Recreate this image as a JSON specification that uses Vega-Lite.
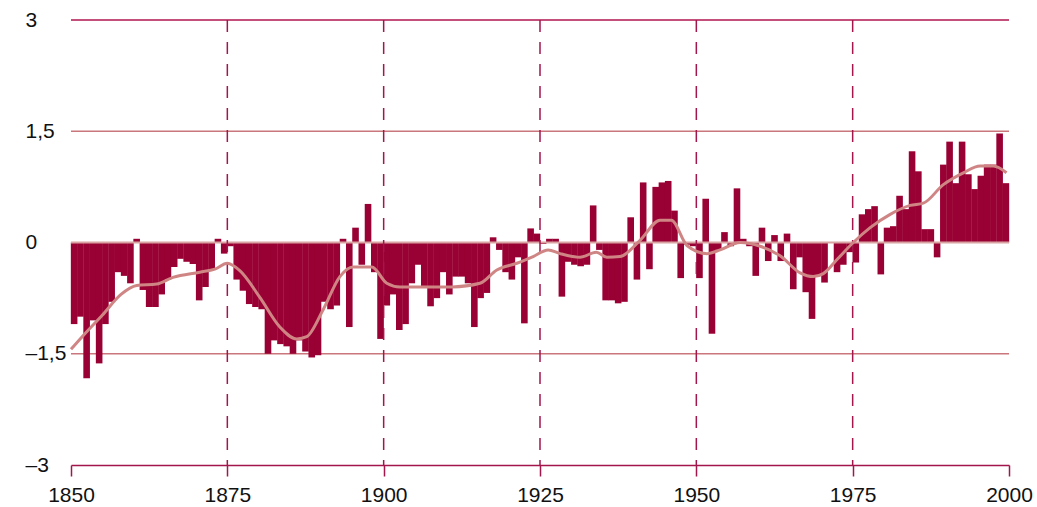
{
  "$schema": "https://vega.github.io/schema/vega-lite/v6.json",
  "width": 938,
  "height": 445,
  "autosize": {"type": "none"},
  "padding": {"left": 71, "top": 20, "right": 28, "bottom": 42},
  "background": "#ffffff",
  "config": {"view": {"stroke": null}, "font": "Liberation Sans"},
  "datasets": {
    "bars": [
      {"year":1850,"value":-1.1},{"year":1851,"value":-1.0},{"year":1852,"value":-1.83},{"year":1853,"value":-1.05},{"year":1854,"value":-1.63},
      {"year":1855,"value":-1.1},{"year":1856,"value":-0.8},{"year":1857,"value":-0.4},{"year":1858,"value":-0.45},{"year":1859,"value":-0.55},
      {"year":1860,"value":0.05},{"year":1861,"value":-0.64},{"year":1862,"value":-0.87},{"year":1863,"value":-0.87},{"year":1864,"value":-0.7},
      {"year":1865,"value":-0.5},{"year":1866,"value":-0.33},{"year":1867,"value":-0.22},{"year":1868,"value":-0.26},{"year":1869,"value":-0.29},
      {"year":1870,"value":-0.78},{"year":1871,"value":-0.6},{"year":1872,"value":-0.37},{"year":1873,"value":0.05},{"year":1874,"value":-0.15},
      {"year":1875,"value":-0.05},{"year":1876,"value":-0.5},{"year":1877,"value":-0.65},{"year":1878,"value":-0.83},{"year":1879,"value":-0.87},
      {"year":1880,"value":-0.9},{"year":1881,"value":-1.5},{"year":1882,"value":-1.32},{"year":1883,"value":-1.37},{"year":1884,"value":-1.4},
      {"year":1885,"value":-1.5},{"year":1886,"value":-1.32},{"year":1887,"value":-1.47},{"year":1888,"value":-1.55},{"year":1889,"value":-1.52},
      {"year":1890,"value":-0.8},{"year":1891,"value":-0.9},{"year":1892,"value":-0.85},{"year":1893,"value":0.05},{"year":1894,"value":-1.14},
      {"year":1895,"value":0.2},{"year":1896,"value":-0.3},{"year":1897,"value":0.52},{"year":1898,"value":-0.4},{"year":1899,"value":-1.3},
      {"year":1900,"value":-0.85},{"year":1901,"value":-0.7},{"year":1902,"value":-1.18},{"year":1903,"value":-1.1},{"year":1904,"value":-0.55},
      {"year":1905,"value":-0.3},{"year":1906,"value":-0.6},{"year":1907,"value":-0.86},{"year":1908,"value":-0.75},{"year":1909,"value":-0.4},
      {"year":1910,"value":-0.7},{"year":1911,"value":-0.46},{"year":1912,"value":-0.46},{"year":1913,"value":-0.55},{"year":1914,"value":-1.14},
      {"year":1915,"value":-0.75},{"year":1916,"value":-0.68},{"year":1917,"value":0.07},{"year":1918,"value":-0.1},{"year":1919,"value":-0.4},
      {"year":1920,"value":-0.5},{"year":1921,"value":-0.2},{"year":1922,"value":-1.09},{"year":1923,"value":0.19},{"year":1924,"value":0.12},
      {"year":1925,"value":-0.02},{"year":1926,"value":0.05},{"year":1927,"value":0.05},{"year":1928,"value":-0.73},{"year":1929,"value":-0.26},
      {"year":1930,"value":-0.3},{"year":1931,"value":-0.32},{"year":1932,"value":-0.3},{"year":1933,"value":0.5},{"year":1934,"value":-0.1},
      {"year":1935,"value":-0.78},{"year":1936,"value":-0.78},{"year":1937,"value":-0.82},{"year":1938,"value":-0.8},{"year":1939,"value":0.34},
      {"year":1940,"value":-0.5},{"year":1941,"value":0.81},{"year":1942,"value":-0.36},{"year":1943,"value":0.75},{"year":1944,"value":0.81},
      {"year":1945,"value":0.83},{"year":1946,"value":0.43},{"year":1947,"value":-0.48},{"year":1948,"value":-0.03},{"year":1949,"value":-0.05},
      {"year":1950,"value":-0.48},{"year":1951,"value":0.59},{"year":1952,"value":-1.23},{"year":1953,"value":-0.1},{"year":1954,"value":0.14},
      {"year":1955,"value":-0.05},{"year":1956,"value":0.73},{"year":1957,"value":0.05},{"year":1958,"value":-0.05},{"year":1959,"value":-0.45},
      {"year":1960,"value":0.2},{"year":1961,"value":-0.25},{"year":1962,"value":0.1},{"year":1963,"value":-0.25},{"year":1964,"value":0.12},
      {"year":1965,"value":-0.63},{"year":1966,"value":-0.2},{"year":1967,"value":-0.67},{"year":1968,"value":-1.03},{"year":1969,"value":-0.45},
      {"year":1970,"value":-0.54},{"year":1971,"value":0.0},{"year":1972,"value":-0.4},{"year":1973,"value":-0.3},{"year":1974,"value":-0.13},
      {"year":1975,"value":-0.27},{"year":1976,"value":0.38},{"year":1977,"value":0.45},{"year":1978,"value":0.49},{"year":1979,"value":-0.43},
      {"year":1980,"value":0.2},{"year":1981,"value":0.22},{"year":1982,"value":0.63},{"year":1983,"value":0.45},{"year":1984,"value":1.23},
      {"year":1985,"value":0.96},{"year":1986,"value":0.18},{"year":1987,"value":0.18},{"year":1988,"value":-0.2},{"year":1989,"value":1.05},
      {"year":1990,"value":1.36},{"year":1991,"value":0.8},{"year":1992,"value":1.36},{"year":1993,"value":0.92},{"year":1994,"value":0.72},
      {"year":1995,"value":0.9},{"year":1996,"value":1.05},{"year":1997,"value":1.05},{"year":1998,"value":1.47},{"year":1999,"value":0.8}
    ],
    "smooth": [
      {"year":1850,"value":-1.44},{"year":1852,"value":-1.25},{"year":1855,"value":-0.98},{"year":1858,"value":-0.7},{"year":1860.5,"value":-0.58},
      {"year":1863.7,"value":-0.56},{"year":1866.3,"value":-0.47},{"year":1870.6,"value":-0.4},{"year":1873,"value":-0.36},{"year":1875,"value":-0.28},
      {"year":1877,"value":-0.38},{"year":1880.2,"value":-0.74},{"year":1883.4,"value":-1.14},{"year":1886.1,"value":-1.3},{"year":1887.7,"value":-1.27},
      {"year":1890.3,"value":-0.91},{"year":1893,"value":-0.46},{"year":1895.1,"value":-0.33},{"year":1898.1,"value":-0.33},{"year":1900.5,"value":-0.55},
      {"year":1902.6,"value":-0.6},{"year":1909,"value":-0.6},{"year":1911,"value":-0.6},{"year":1915.4,"value":-0.55},{"year":1918.1,"value":-0.37},
      {"year":1921.3,"value":-0.28},{"year":1923.9,"value":-0.19},{"year":1926.3,"value":-0.1},{"year":1928.2,"value":-0.15},{"year":1931.4,"value":-0.2},
      {"year":1934,"value":-0.13},{"year":1935.7,"value":-0.2},{"year":1937.8,"value":-0.19},{"year":1941,"value":0.03},{"year":1944.2,"value":0.3},
      {"year":1946,"value":0.3},{"year":1948.5,"value":-0.04},{"year":1951.7,"value":-0.15},{"year":1953.8,"value":-0.1},{"year":1957,"value":0.0},
      {"year":1960.2,"value":-0.05},{"year":1963.4,"value":-0.18},{"year":1966.6,"value":-0.41},{"year":1968.7,"value":-0.46},{"year":1970.3,"value":-0.42},
      {"year":1972.5,"value":-0.23},{"year":1975.1,"value":0.0},{"year":1977.8,"value":0.2},{"year":1981,"value":0.38},{"year":1984.2,"value":0.5},
      {"year":1986.3,"value":0.53},{"year":1989.5,"value":0.78},{"year":1992.7,"value":0.94},{"year":1995.4,"value":1.03},{"year":1997.5,"value":1.03},
      {"year":1999.6,"value":0.94}
    ],
    "grid": [{"v": 1.5}, {"v": -1.5}],
    "top": [{"v": 3}],
    "zero": [{"v": 0}],
    "decades": [{"year":1875},{"year":1900},{"year":1925},{"year":1950},{"year":1975}]
  },
  "layer": [
    {
      "data": {"name": "grid"},
      "mark": {"type": "rule", "color": "#c9767c", "strokeWidth": 1.3},
      "encoding": {
        "y": {"field": "v", "type": "quantitative", "scale": {"domain": [-3, 3], "nice": false, "zero": false, "padding": 0},
              "axis": {"values": [-3, -1.5, 0, 1.5, 3], "labelExpr": "datum.value == 3 ? '3' : datum.value == 1.5 ? '1,5' : datum.value == 0 ? '0' : datum.value == -1.5 ? '–1,5' : '–3'",
                       "domain": false, "ticks": false, "grid": false, "labelAlign": "left", "labelPadding": 46, "labelFontSize": 21, "labelColor": "#111111", "labelBaseline": "middle", "title": null}}
      }
    },
    {
      "data": {"name": "top"},
      "mark": {"type": "rule", "color": "#b0154f", "strokeWidth": 1.5},
      "encoding": {"y": {"field": "v", "type": "quantitative"}}
    },
    {
      "data": {"name": "bars"},
      "mark": {"type": "bar", "orient": "vertical", "color": "#990033", "width": 6.6, "xOffset": 3.13},
      "encoding": {
        "x": {"field": "year", "type": "quantitative", "scale": {"domain": [1850, 2000], "nice": false, "zero": false, "padding": 0},
              "axis": {"values": [1850, 1875, 1900, 1925, 1950, 1975, 2000], "format": "d", "domainColor": "#a3164c", "domainWidth": 1.5,
                       "tickColor": "#a3164c", "tickWidth": 1.5, "tickSize": 11, "labelFontSize": 21, "labelColor": "#111111", "labelPadding": 8,
                       "labelFlush": false, "labelOverlap": false, "grid": false, "title": null}},
        "y": {"field": "value", "type": "quantitative"},
        "y2": {"datum": 0}
      }
    },
    {
      "data": {"name": "zero"},
      "mark": {"type": "rule", "color": "#d9a3a3", "strokeWidth": 2},
      "encoding": {"y": {"field": "v", "type": "quantitative"}}
    },
    {
      "data": {"name": "decades"},
      "mark": {"type": "rule", "color": "#a3164c", "strokeWidth": 1.5, "strokeDash": [12, 10]},
      "encoding": {"x": {"field": "year", "type": "quantitative"}}
    },
    {
      "data": {"name": "smooth"},
      "mark": {"type": "line", "color": "#d08585", "strokeWidth": 3, "interpolate": "monotone"},
      "encoding": {
        "x": {"field": "year", "type": "quantitative"},
        "y": {"field": "value", "type": "quantitative"}
      }
    }
  ]
}
